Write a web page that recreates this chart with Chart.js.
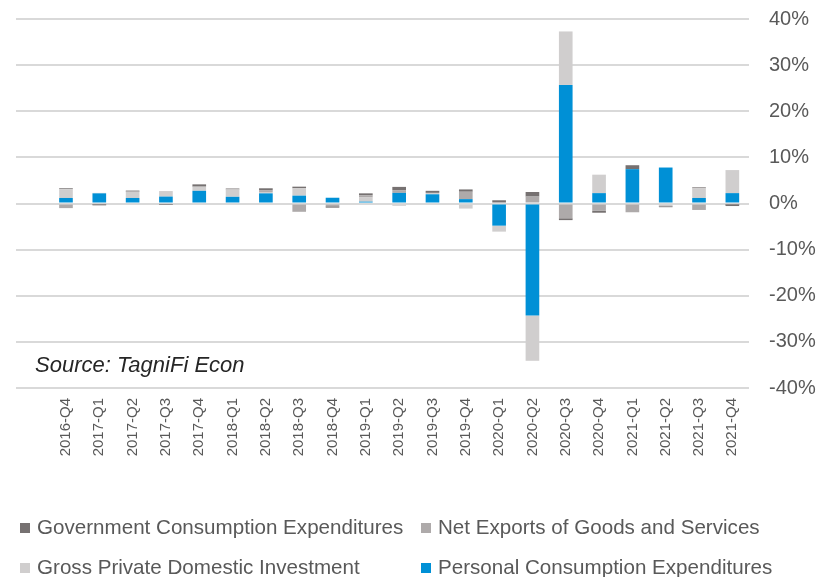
<!DOCTYPE html>
<html>
<head>
<meta charset="utf-8">
<script src="https://cdn.jsdelivr.net/npm/chart.js@4.4.1/dist/chart.umd.min.js"></script>
<style>
    body { margin: 0; background: #fff; }
    #wrap { position: relative; width: 830px; height: 577px; }
    #legend { position: absolute; left: 0; top: 0; width: 830px; height: 577px; pointer-events: none;
              font-family: "Liberation Sans", Arial, sans-serif; font-size: 20.6px; color: #595959; }
    .item { position: absolute; white-space: nowrap; line-height: 20px; }
    .box { display: inline-block; width: 10px; height: 10px; margin-right: 7px; vertical-align: 1px; }
</style>
</head>
<body>
<div id="wrap">
    <canvas id="gdpChart" width="830" height="480"></canvas>
    <div id="legend"></div>
</div>
<script>
// first slot is left empty, like the original sheet
const quarters = ['', '2016-Q4', '2017-Q1', '2017-Q2', '2017-Q3', '2017-Q4', '2018-Q1', '2018-Q2', '2018-Q3',
    '2018-Q4', '2019-Q1', '2019-Q2', '2019-Q3', '2019-Q4', '2020-Q1', '2020-Q2', '2020-Q3', '2020-Q4',
    '2021-Q1', '2021-Q2', '2021-Q3', '2021-Q4'];
const pce =   [null, 1.2, 2.2, 1.2, 1.5, 2.75, 1.45, 2.2, 1.7, 1.25, 0.4, 2.3, 2.0, 0.95, -4.8, -24.3, 25.7, 2.25, 7.45, 7.8, 1.2, 2.25];
const gpdi =  [null, 1.9, 0.1, 1.3, 1.2, 0.9, 1.6, 0.3, 1.6, 0.0, 0.9, -0.5, 0.3, -1.1, -1.3, -9.8, 11.6, 4.0, 0.0, -0.4, 2.1, 5.0];
const netEx = [null, -1.0, -0.1, 0.1, -0.1, 0.0, 0.0, 0.4, -1.8, -0.6, 0.5, 0.6, 0.0, 1.6, 0.0, 1.5, -3.2, -1.6, -1.9, -0.2, -1.4, -0.1];
const gov =   [null, 0.2, -0.3, 0.2, -0.2, 0.5, 0.2, 0.4, 0.35, -0.3, 0.4, 0.7, 0.45, 0.5, 0.7, 1.0, -0.4, -0.4, 0.85, -0.2, 0.2, -0.45];
const yTicks = [-40, -30, -20, -10, 0, 10, 20, 30, 40];
const sourceText = 'Source: TagniFi Econ';

const series = [
    { label: 'Personal Consumption Expenditures', data: pce, color: '#0090D6' },
    { label: 'Gross Private Domestic Investment', data: gpdi, color: '#D0CECE' },
    { label: 'Net Exports of Goods and Services', data: netEx, color: '#AEAAAA' },
    { label: 'Government Consumption Expenditures', data: gov, color: '#767171' }
];

const sourcePlugin = {
    id: 'sourceNote',
    afterDatasetsDraw(chart) {
        var ctx = chart.ctx;
        ctx.save();
        ctx.font = 'italic 22px "Liberation Sans", Arial, sans-serif';
        ctx.fillStyle = '#262626';
        ctx.textBaseline = 'alphabetic';
        ctx.fillText(sourceText, 35, 372);
        ctx.restore();
    }
};

const chart = new Chart('gdpChart', {
    type: 'bar',
    data: {
        labels: quarters,
        datasets: series.map(s => ({
            label: s.label,
            data: s.data,
            backgroundColor: s.color,
            borderWidth: 0,
            barPercentage: 0.41,
            categoryPercentage: 1.0
        }))
    },
    options: {
        responsive: false,
        animation: false,
        layout: { padding: { left: 16, top: 19, right: 0, bottom: 0 } },
        plugins: {
            legend: { display: false },
            tooltip: { enabled: false }
        },
        scales: {
            x: {
                stacked: true,
                grid: { display: false },
                border: { display: false },
                ticks: {
                    autoSkip: false,
                    minRotation: 90, maxRotation: 90,
                    padding: 2,
                    color: '#595959',
                    font: { family: '"Liberation Sans", Arial, sans-serif', size: 15 }
                },
                afterFit: function(scale) { scale.height = 92; }
            },
            y: {
                stacked: true,
                position: 'right',
                min: -40, max: 40,
                afterBuildTicks: function(scale) { scale.ticks = yTicks.map(v => ({ value: v })); },
                grid: { color: '#d9d9d9', lineWidth: 2, drawTicks: false },
                border: { display: false },
                ticks: {
                    padding: 20,
                    color: '#595959',
                    font: { family: '"Liberation Sans", Arial, sans-serif', size: 20 },
                    callback: v => v + '%'
                },
                afterFit: function(scale) {
                    scale.width = 81;
                    scale.paddingTop = 0;
                    scale.paddingBottom = 0;
                }
            }
        }
    },
    plugins: [sourcePlugin]
});

// legend: two columns, reversed order like the original
function buildLegend() {
    var pos = [[20, 517], [421, 517], [20, 557], [421, 557]];
    var html = '';
    series.slice().reverse().forEach((s, i) => {
        html += `<div class="item" style="left:${pos[i][0]}px;top:${pos[i][1]}px">` +
            `<span class="box" style="background:${s.color}"></span>${s.label}</div>`;
    });
    document.getElementById('legend').innerHTML = html;
}
buildLegend();
</script>
</body>
</html>
